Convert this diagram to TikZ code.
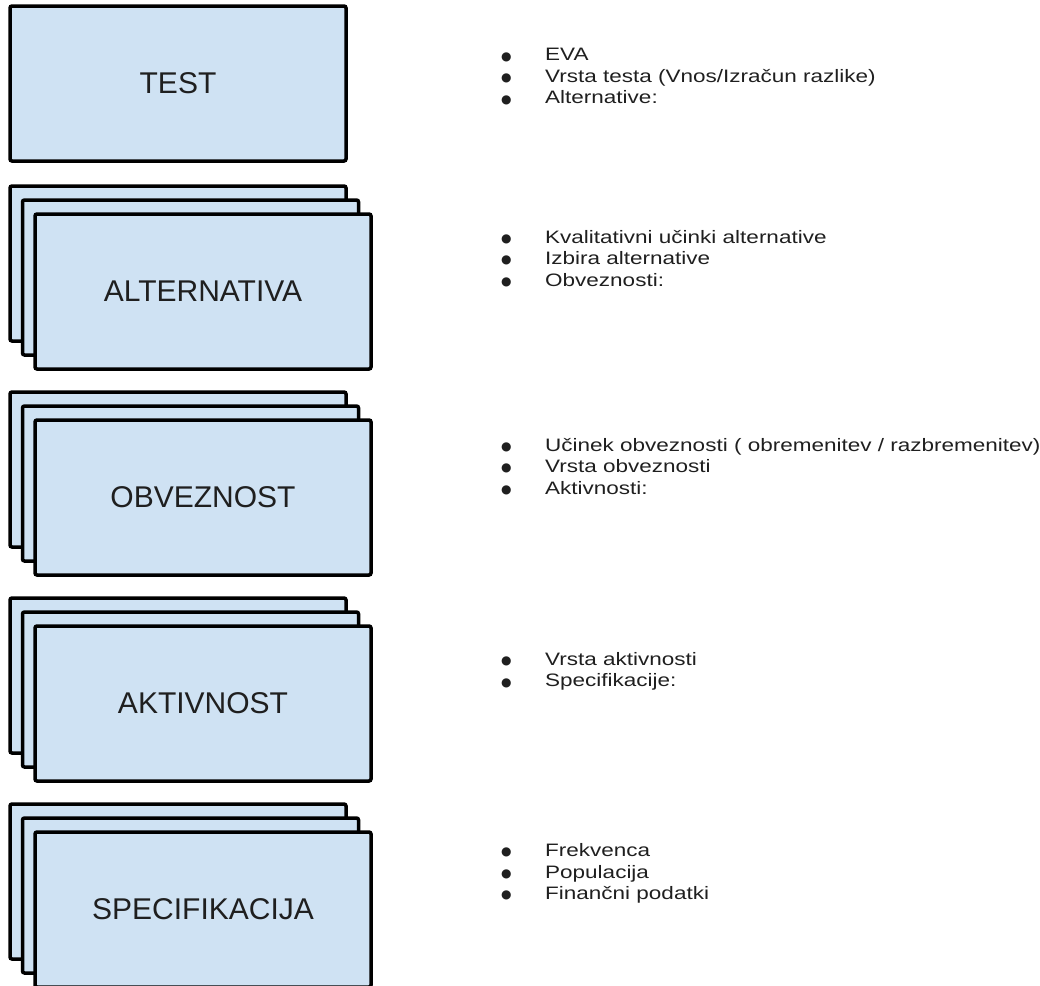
\documentclass[tikz,border=0pt]{standalone}
\usepackage{fontspec}
\setmainfont{Liberation Sans}
\newfontfamily\dotfont{DejaVu Sans}
\usetikzlibrary{positioning}
\definecolor{cardblue}{HTML}{CFE2F3}
\newcommand\bul[1]{\makebox[44pt][l]{\raisebox{0.8pt}{\dotfont\fontsize{12}{12}\selectfont ●}}\scalebox{1.25}[1]{#1}}

\begin{document}
\begin{tikzpicture}[x=1pt, y=-1pt,
    card/.style={draw=black, line width=3.5pt, fill=cardblue, rounded corners=2pt,
        minimum width=336pt, minimum height=155pt, inner sep=0pt, outer sep=0pt,
        anchor=north west, font=\fontsize{30}{36}\selectfont, text=black!88},
    notes/.style={anchor=west, align=left, inner sep=0pt,
        font=\fontsize{18}{21.5}\selectfont, text=black!88}]
        \useasboundingbox (0,0) rectangle (1040,985);
        \coordinate (col) at (501,0);
        % left column: single box, then stacks of three
        \node[card] (test) at (10,6) {TEST};
        \node[card, below=25pt of test] (alt1) {};
        \node[card] (alt2) at ([shift={(12.5,14)}]alt1.north west) {};
        \node[card] (alt3) at ([shift={(12.5,14)}]alt2.north west) {ALTERNATIVA};
        \node[card, below=51pt of alt1] (obv1) {};
        \node[card] (obv2) at ([shift={(12.5,14)}]obv1.north west) {};
        \node[card] (obv3) at ([shift={(12.5,14)}]obv2.north west) {OBVEZNOST};
        \node[card, below=51pt of obv1] (akt1) {};
        \node[card] (akt2) at ([shift={(12.5,14)}]akt1.north west) {};
        \node[card] (akt3) at ([shift={(12.5,14)}]akt2.north west) {AKTIVNOST};
        \node[card, below=51pt of akt1] (spec1) {};
        \node[card] (spec2) at ([shift={(12.5,14)}]spec1.north west) {};
        \node[card] (spec3) at ([shift={(12.5,14)}]spec2.north west) {SPECIFIKACIJA};
        % right column: bullet lists
        \node[notes, yshift=7pt] (testnotes) at (test -| col) {\bul{EVA}\\ \bul{Vrsta testa (Vnos/Izračun razlike)}\\ \bul{Alternative:}};
        \node[notes, yshift=5pt] (altnotes) at (alt1 -| col) {\bul{Kvalitativni učinki alternative}\\ \bul{Izbira alternative}\\ \bul{Obveznosti:}};
        \node[notes, yshift=3pt] (obvnotes) at (obv1 -| col) {\bul{Učinek obveznosti ( obremenitev / razbremenitev)}\\ \bul{Vrsta obveznosti}\\ \bul{Aktivnosti:}};
        \node[notes, yshift=4pt] (aktnotes) at (akt1 -| col) {\bul{Vrsta aktivnosti}\\ \bul{Specifikacije:}};
        \node[notes, yshift=8pt] (specnotes) at (spec1 -| col) {\bul{Frekvenca}\\ \bul{Populacija}\\ \bul{Finančni podatki}};
\end{tikzpicture}
\end{document}
